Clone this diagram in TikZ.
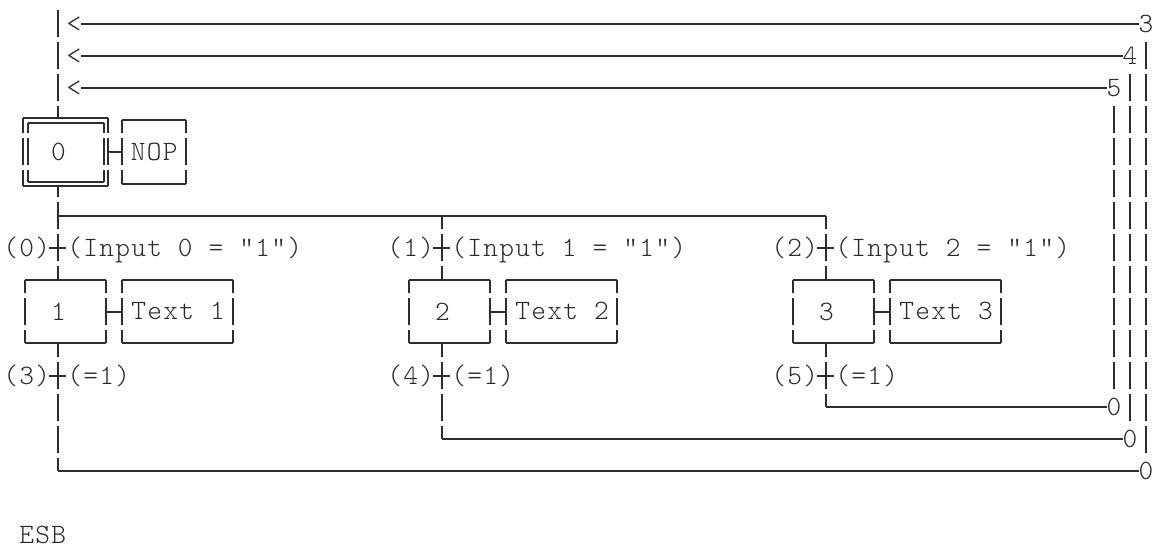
\documentclass[tikz,border=0pt]{standalone}
\usepackage{fontspec}
\newfontfamily\cnfont[LetterSpace=4.6]{Latin Modern Mono Light}
\definecolor{ink}{HTML}{2E2E2E}
\definecolor{txtink}{HTML}{2A2A2A}
\tikzset{
  hl/.style={draw=ink,line width=1.3pt},
  vd/.style={draw=ink,line width=1.3pt,dash pattern=on 20.25pt off 3.75pt,dash phase={#1*0.75pt}},
  txt/.style={inner sep=0pt,outer sep=0pt,text=txtink,font=\cnfont\fontsize{21}{24}\selectfont,text height=15.75pt,text depth=3.75pt},
  lbl/.style={txt,anchor=west,xshift=1pt},
  boxnode/.style={txt,align=center},
}
\newcommand{\stepbox}[7]{% name, x1, y1, x2, y2, side phase, text
  \node[boxnode,minimum width={(#4-#2)*0.75pt},minimum height={(#5-#3)*0.75pt}] (#1) at ({(#2+#4)/2},{(#3+#5)/2}) {\hspace*{0.8pt}#7};
  \draw[hl] (#1.north west) -- (#1.north east);
  \draw[hl] (#1.south west) -- (#1.south east);
  \draw[vd=#6] (#1.north west) -- (#1.south west);
  \draw[vd=#6] (#1.north east) -- (#1.south east);
}
\newcommand{\transtick}[1]{%
  \draw[hl] ([xshift=-6.4pt]#1) -- ([xshift=6pt]#1);
}
\begin{document}
\begin{tikzpicture}[x=0.75pt,y=-0.75pt]
\useasboundingbox (0,0) rectangle (1156,547);
\fill[white] (0,0) rectangle (1156,547);

% named points
\coordinate (top) at (58,10);
\coordinate (j1) at (58,216);
\coordinate (j2) at (442,216);
\coordinate (j3) at (826,216);
\coordinate (x0) at (58,248);
\coordinate (x1) at (442,248);
\coordinate (x2) at (826,248);
\coordinate (x3) at (58,376);
\coordinate (x4) at (442,376);
\coordinate (x5) at (826,376);
\coordinate (c1) at (58,471);
\coordinate (c2) at (442,439);
\coordinate (c3) at (826,407);
\coordinate (r3a) at (1146,42);
\coordinate (r3b) at (1146,453);
\coordinate (r4a) at (1130,74);
\coordinate (r4b) at (1130,421);
\coordinate (r5a) at (1114,106);
\coordinate (r5b) at (1114,389);

% return rows
\node[txt] (lt3) at (74,24) {<};
\node[txt] (lt4) at (74,56) {<};
\node[txt] (lt5) at (74,88) {<};
\node[txt] (d3) at (1146,24) {3};
\node[txt] (d4) at (1130,56) {4};
\node[txt] (d5) at (1114,88) {5};
\node[txt] (z1) at (1146,471) {0};
\node[txt] (z2) at (1130,439) {0};
\node[txt] (z3) at (1114,407) {0};
\draw[hl] (d3.west) -- (lt3.east);
\draw[hl] (d4.west) -- (lt4.east);
\draw[hl] (d5.west) -- (lt5.east);
\draw[vd=0] (r3a) -- (r3b);
\draw[vd=0] (r4a) -- (r4b);
\draw[vd=0] (r5a) -- (r5b);

% initial step
\stepbox{s0o}{23.3}{117.7}{107.7}{186}{11.7}{}
\stepbox{s0i}{27.7}{122.7}{103.7}{182}{16.7}{}
\node[txt] (n0) at (58.5,152) {0};
\stepbox{nop}{121.7}{120}{185.7}{184}{14}{NOP}
\draw[hl] (s0o.east) -- (nop.west);

% steps
\stepbox{s1}{25.3}{280}{106}{343.3}{14}{}
\stepbox{s2}{409.3}{280}{490}{343.3}{14}{}
\stepbox{s3}{793.3}{280}{874}{343.3}{14}{}
\node[txt] (n1) at (58.5,312) {1};
\node[txt] (n2) at (442.5,312) {2};
\node[txt] (n3) at (826.5,312) {3};
\stepbox{a1}{121.7}{280}{233.3}{343.3}{14}{Text 1}
\stepbox{a2}{505.7}{280}{617.3}{343.3}{14}{Text 2}
\stepbox{a3}{889.7}{280}{1001.3}{343.3}{14}{Text 3}
\draw[hl] (s1.east) -- (a1.west);
\draw[hl] (s2.east) -- (a2.west);
\draw[hl] (s3.east) -- (a3.west);

% main verticals
\draw[vd=0] (top) -- (top |- s0o.north);
\draw[vd=16] (j1 |- s0o.south) -- (j1 |- s1.north);
\draw[hl] (j1) -- (j3);
\draw[vd=14] (j2) -- (j2 |- s2.north);
\draw[vd=14] (j3) -- (j3 |- s3.north);
\draw[vd=13.3] (c1 |- s1.south) -- (c1);
\draw[vd=13.3] (c2 |- s2.south) -- (c2);
\draw[vd=13.3] (c3 |- s3.south) -- (c3);
\draw[hl] (c1) -- (z1.west);
\draw[hl] (c2) -- (z2.west);
\draw[hl] (c3) -- (z3.west);

% transition ticks
\transtick{x0}
\transtick{x1}
\transtick{x2}
\transtick{x3}
\transtick{x4}
\transtick{x5}

% transition labels
\node[lbl] (t0n) at (2,248) {(0)};
\node[lbl] (t1n) at (386,248) {(1)};
\node[lbl] (t2n) at (770,248) {(2)};
\node[lbl] (t3n) at (2,376) {(3)};
\node[lbl] (t4n) at (386,376) {(4)};
\node[lbl] (t5n) at (770,376) {(5)};
\node[lbl] (t0c) at (66,248) {(Input 0 = "1")};
\node[lbl] (t1c) at (450,248) {(Input 1 = "1")};
\node[lbl] (t2c) at (834,248) {(Input 2 = "1")};
\node[lbl] (t3c) at (66,376) {(=1)};
\node[lbl] (t4c) at (450,376) {(=1)};
\node[lbl] (t5c) at (834,376) {(=1)};

\node[lbl,text height=12pt,text depth=0pt] (esb) at (18,535) {ESB};
\end{tikzpicture}
\end{document}
